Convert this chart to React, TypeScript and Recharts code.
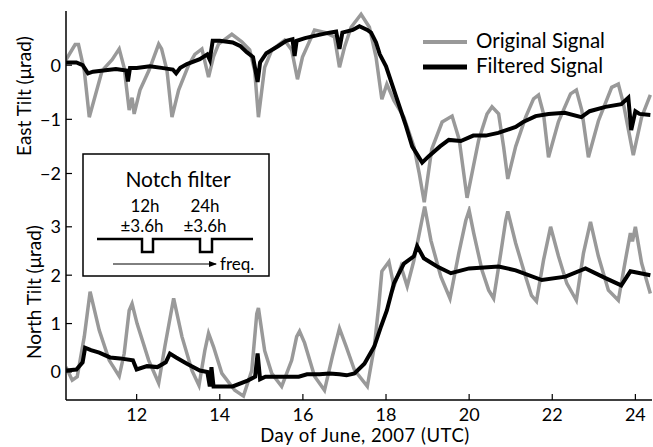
import { LineChart, Line, XAxis, YAxis } from 'recharts';

// Days of June 2007 (UTC) and tilt in microradians
const eastOrigDays = [
  10.3, 10.52, 10.6, 10.74, 10.86, 11.17, 11.41, 11.58, 11.7, 11.82,
  11.89, 11.94, 12.08, 12.3, 12.53, 12.6, 12.73, 12.85, 13.01, 13.25,
  13.4, 13.57, 13.73, 13.85, 13.97, 14.29, 14.53, 14.72, 14.84, 14.93,
  15.08, 15.25, 15.56, 15.73, 15.87, 15.99, 16.28, 16.55, 16.76, 16.88,
  17.0, 17.16, 17.4, 17.6, 17.76, 17.9, 18.02, 18.19, 18.43, 18.67,
  18.8, 18.92, 19.1, 19.35, 19.59, 19.76, 19.95, 20.23, 20.43, 20.55,
  20.71, 20.83, 20.93, 21.12, 21.36, 21.55, 21.67, 21.79, 21.91, 22.15,
  22.44, 22.58, 22.71, 22.87, 23.11, 23.43, 23.59, 23.71, 23.95, 24.15,
  24.36,
];
const eastOrigVals = [
  0.1, 0.38, 0.38, -0.1, -0.96, -0.1, 0.1, 0.3, -0.05, -0.83,
  -0.6, -0.9, -0.46, -0.09, 0.39, 0.3, -0.1, -0.96, -0.46, 0.0,
  0.2, 0.3, -0.22, 0.16, 0.39, 0.57, 0.43, 0.28, -0.1, -0.96,
  -0.04, 0.28, 0.46, 0.28, -0.26, 0.15, 0.65, 0.6, 0.52, -0.04,
  0.33, 0.7, 0.94, 0.7, 0.15, -0.63, -0.35, -0.65, -0.96, -1.5,
  -2.0, -2.53, -1.55, -1.05, -0.94, -1.37, -2.45, -1.38, -0.9, -0.77,
  -0.9, -1.51, -2.1, -1.5, -0.96, -0.62, -0.55, -0.9, -1.7, -1.04,
  -0.53, -0.46, -0.83, -1.7, -1.03, -0.41, -0.35, -0.7, -1.66, -0.96,
  -0.55,
];

const eastFiltDays = [
  10.3, 10.55, 10.7, 10.83, 10.95, 11.2, 11.5, 11.75, 11.79, 11.84,
  12.0, 12.32, 12.6, 12.87, 12.95, 13.05, 13.21, 13.52, 13.7, 13.76,
  13.83, 14.0, 14.31, 14.5, 14.65, 14.8, 14.91, 14.97, 15.12, 15.4,
  15.6, 15.75, 15.8, 15.85, 16.05, 16.33, 16.64, 16.8, 16.88, 16.95,
  17.2, 17.36, 17.55, 17.64, 17.76, 17.85, 18.0, 18.24, 18.48, 18.63,
  18.87, 19.03, 19.3, 19.51, 19.8, 20.1, 20.4, 20.7, 21.12, 21.3,
  21.6, 21.91, 22.3, 22.7, 22.9, 23.28, 23.66, 23.83, 23.9, 24.0,
  24.1, 24.36,
];
const eastFiltVals = [
  0.05, 0.05, 0.0, -0.15, -0.12, -0.1, -0.07, -0.1, -0.3, -0.05,
  -0.05, -0.02, -0.05, -0.08, -0.15, -0.05, 0.02, 0.11, 0.2, 0.1,
  0.45, 0.45, 0.42, 0.35, 0.24, 0.15, -0.31, 0.05, 0.22, 0.35,
  0.45, 0.48, 0.17, 0.45, 0.5, 0.55, 0.6, 0.62, 0.3, 0.6,
  0.65, 0.72, 0.65, 0.6, 0.42, 0.2, -0.02, -0.57, -1.12, -1.5,
  -1.8, -1.68, -1.5, -1.38, -1.4, -1.3, -1.3, -1.25, -1.14, -1.05,
  -0.94, -0.9, -0.88, -0.96, -0.85, -0.77, -0.72, -0.6, -1.2, -0.85,
  -0.9, -0.92,
];

const northOrigDays = [
  10.3, 10.45, 10.57, 10.74, 10.88, 11.1, 11.34, 11.58, 11.7, 11.82,
  11.89, 12.01, 12.29, 12.53, 12.68, 12.89, 13.09, 13.33, 13.5, 13.64,
  13.73, 13.85, 14.05, 14.36, 14.57, 14.77, 14.89, 14.93, 15.08, 15.25,
  15.49, 15.73, 15.85, 15.92, 16.04, 16.28, 16.52, 16.71, 16.88, 17.04,
  17.24, 17.55, 17.72, 17.83, 17.9, 18.07, 18.19, 18.36, 18.51, 18.67,
  18.93, 19.08, 19.32, 19.54, 19.75, 19.92, 20.0, 20.11, 20.31, 20.47,
  20.59, 20.76, 20.88, 20.93, 21.12, 21.36, 21.5, 21.62, 21.79, 21.96,
  22.15, 22.35, 22.58, 22.75, 22.92, 23.11, 23.35, 23.59, 23.76, 23.88,
  23.93, 24.0, 24.15, 24.36,
];
const northOrigVals = [
  0.1, -0.17, -0.1, 0.73, 1.66, 0.86, 0.24, -0.09, 0.38, 1.27,
  1.41, 1.0, 0.24, -0.23, 0.53, 1.52, 0.73, 0.03, -0.28, 0.44,
  0.8, 0.52, -0.03, -0.38, -0.5, 0.03, 1.2, 1.32, 0.44, -0.03,
  -0.3, 0.24, 0.73, 0.84, 0.6, -0.09, -0.38, 0.32, 0.9, 0.53,
  0.04, -0.3, 0.53, 1.41, 2.08, 2.28, 1.77, 2.18, 1.77, 2.3,
  3.42, 2.72, 1.97, 1.52, 2.45, 3.13, 3.34, 2.87, 2.1, 1.69,
  1.52, 2.45, 3.13, 3.32, 2.66, 1.97, 1.58, 1.46, 2.31, 3.0,
  2.39, 1.83, 1.48, 2.45, 3.1, 2.39, 1.69, 1.48, 2.31, 2.87,
  2.7, 3.0, 2.25, 1.62,
];

const northFiltDays = [
  10.3, 10.55, 10.7, 10.76, 10.9, 11.1, 11.36, 11.6, 11.91, 12.0,
  12.25, 12.5, 12.7, 12.8, 12.95, 13.21, 13.52, 13.7, 13.76, 13.8,
  13.85, 14.31, 14.67, 14.85, 14.91, 14.97, 15.1, 15.51, 15.9, 16.1,
  16.4, 16.64, 16.88, 17.05, 17.24, 17.48, 17.72, 17.88, 18.02, 18.19,
  18.43, 18.67, 18.75, 18.91, 19.23, 19.56, 20.0, 20.71, 21.12, 21.75,
  22.32, 22.8, 23.28, 23.66, 23.88, 24.36,
];
const northFiltVals = [
  0.03, 0.05, 0.2, 0.5, 0.45, 0.4, 0.3, 0.28, 0.24, 0.05,
  0.12, 0.1, 0.2, 0.38, 0.3, 0.17, 0.03, 0.0, -0.3, 0.1,
  -0.3, -0.3, -0.18, -0.1, 0.38, -0.15, -0.1, -0.1, -0.1, -0.05,
  -0.05, -0.03, -0.05, -0.07, -0.03, 0.17, 0.53, 0.94, 1.27, 1.83,
  2.24, 2.39, 2.6, 2.35, 2.18, 2.04, 2.14, 2.18, 2.1, 1.9,
  1.97, 2.14, 1.94, 1.79, 2.08, 2.0,
];

const dayTicks = [12, 14, 16, 18, 20, 22, 24];
const eastTicks = [-2, -1, 0];
const northTicks = [0, 1, 2, 3];

const GRAY = '#999999';
const FONT = 'Lato, "Open Sans", sans-serif';

const toRows = (days: number[], vals: number[]) => days.map((t, i) => ({ t, v: vals[i] }));

const eastOrig = toRows(eastOrigDays, eastOrigVals);
const eastFilt = toRows(eastFiltDays, eastFiltVals);
const northOrig = toRows(northOrigDays, northOrigVals);
const northFilt = toRows(northFiltDays, northFiltVals);

const minus = (v: number) => (v < 0 ? `\u2212${Math.abs(v)}` : `${v}`);
const tickStyle = { fill: '#000', fontSize: 18, fontFamily: FONT };
const xDomain: [number, number] = [10.3, 24.4];

function Panel({
  orig, filt, domain, ticks, top, height, bottomHeight, showX, bottomStroke,
}: any) {
  return (
    <LineChart
      width={653}
      height={height}
      margin={{ top, right: 1, bottom: showX ? 0 : 4, left: 0 }}
      style={{ position: 'absolute', left: 0, top: 0 }}
    >
      <XAxis
        dataKey="t"
        type="number"
        domain={xDomain}
        ticks={dayTicks}
        interval={0}
        allowDataOverflow
        height={bottomHeight}
        tick={showX ? tickStyle : false}
        tickSize={-6}
        tickMargin={14}
        axisLine={{ stroke: '#000', strokeWidth: bottomStroke }}
        tickLine={{ stroke: '#000', strokeWidth: 1.2 }}
      />
      <XAxis
        xAxisId="top"
        orientation="top"
        type="number"
        domain={xDomain}
        ticks={dayTicks}
        interval={0}
        allowDataOverflow
        height={0}
        tick={false}
        tickSize={-6}
        axisLine={{ stroke: '#000', strokeWidth: 1.5 }}
        tickLine={{ stroke: '#000', strokeWidth: 1.2 }}
      />
      <YAxis
        type="number"
        domain={domain}
        ticks={ticks}
        interval={0}
        allowDataOverflow
        width={66}
        tickSize={-6}
        tickMargin={11}
        tick={tickStyle}
        tickFormatter={minus}
        axisLine={{ stroke: '#000', strokeWidth: 1.5 }}
        tickLine={{ stroke: '#000', strokeWidth: 1.2 }}
      />
      <YAxis
        yAxisId="r"
        orientation="right"
        type="number"
        domain={domain}
        ticks={ticks}
        interval={0}
        allowDataOverflow
        width={0}
        tickSize={-6}
        tick={false}
        axisLine={{ stroke: '#000', strokeWidth: 1.5 }}
        tickLine={{ stroke: '#000', strokeWidth: 1.2 }}
      />
      <Line data={orig} dataKey="v" type="linear" stroke={GRAY} strokeWidth={3.5} dot={false} isAnimationActive={false} />
      <Line data={filt} dataKey="v" type="linear" stroke="#000" strokeWidth={4} dot={false} isAnimationActive={false} />
    </LineChart>
  );
}

export default function App() {
  return (
    <div style={{ position: 'absolute', left: 0, top: 0, width: 653, height: 447, background: '#fff', fontFamily: FONT }}>
      <Panel orig={eastOrig} filt={eastFilt} domain={[-2.6, 1.0]} ticks={eastTicks} top={11} height={210} bottomHeight={0} showX={false} bottomStroke={4} />
      <Panel orig={northOrig} filt={northFilt} domain={[-0.58, 3.43]} ticks={northTicks} top={206} height={447} bottomHeight={47} showX bottomStroke={1.5} />
      <svg width={653} height={447} style={{ position: 'absolute', left: 0, top: 0, pointerEvents: 'none' }}>
        <defs>
          <marker id="arr" markerWidth="8" markerHeight="6" refX="7" refY="3" orient="auto">
            <path d="M0,0 L8,3 L0,6 Z" fill="#000" />
          </marker>
        </defs>
        <g fontFamily={FONT} fill="#000">
          <text x={31} y={96} fontSize={19} textAnchor="middle" transform="rotate(-90 31 96)">East Tilt (μrad)</text>
          <text x={41} y={292} fontSize={19} textAnchor="middle" transform="rotate(-90 41 292)">North Tilt (μrad)</text>
          <text x={365} y={442} fontSize={18.5} letterSpacing={0.5} textAnchor="middle">Day of June, 2007 (UTC)</text>

          <line x1={423} x2={467} y1={42} y2={42} stroke={GRAY} strokeWidth={4} />
          <text x={476} y={48} fontSize={20.5}>Original Signal</text>
          <line x1={423} x2={467} y1={67} y2={67} stroke="#000" strokeWidth={5} />
          <text x={476} y={73} fontSize={20.5}>Filtered Signal</text>

          <rect x={83} y={154} width={186} height={122} fill="#fff" stroke="#000" strokeWidth={1.5} />
          <text x={178} y={187} fontSize={21} textAnchor="middle">Notch filter</text>
          <text x={145} y={212} fontSize={17} textAnchor="middle">12h</text>
          <text x={205} y={212} fontSize={17} textAnchor="middle">24h</text>
          <text x={142} y={232} fontSize={17} textAnchor="middle">±3.6h</text>
          <text x={205} y={232} fontSize={17} textAnchor="middle">±3.6h</text>
          <path d="M97,239 H142 V252 H153 V239 H200 V252 H212 V239 H253" fill="none" stroke="#000" strokeWidth={2.5} />
          <line x1={113} x2={216} y1={264} y2={264} stroke="#000" strokeWidth={1} markerEnd="url(#arr)" />
          <text x={220} y={270} fontSize={17}>freq.</text>
        </g>
      </svg>
    </div>
  );
}
